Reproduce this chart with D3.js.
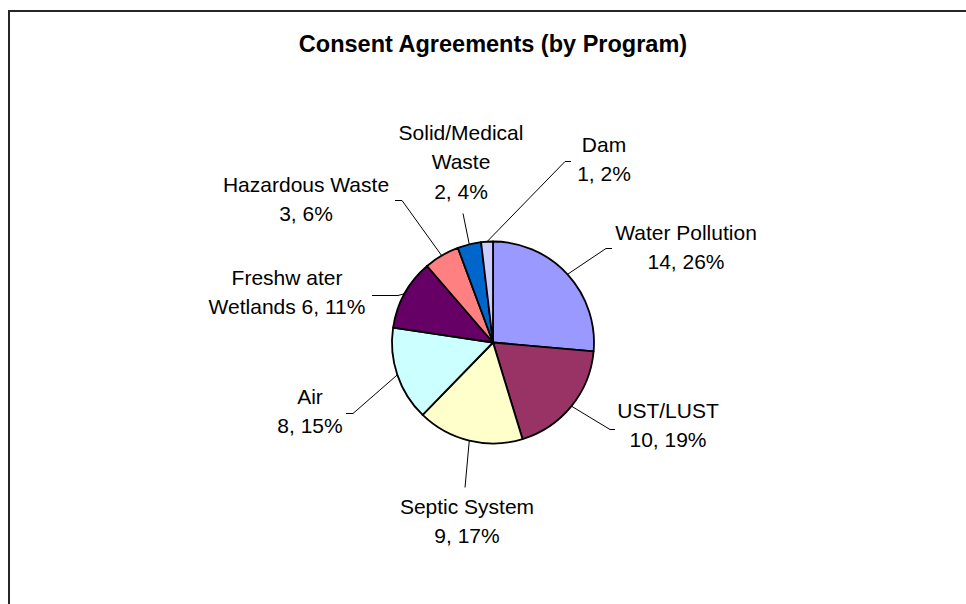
<!DOCTYPE html>
<html>
<head>
<meta charset="utf-8">
<script src="https://cdn.jsdelivr.net/npm/d3@7"></script>
<style>
    body { margin: 0; background: #fff; }
    svg { display: block; }
</style>
</head>
<body>
<script>

//Chart data
var programs = ["Water Pollution", "UST/LUST", "Septic System", "Air", "Freshw ater Wetlands", "Hazardous Waste", "Solid/Medical Waste", "Dam"];
var counts = [14, 10, 9, 8, 6, 3, 2, 1];
var percents = ["26%", "19%", "17%", "15%", "11%", "6%", "4%", "2%"];
var chartTitle = "Consent Agreements (by Program)";

//Label lines, as Excel wrapped them
var labelLines = [
    ["Water Pollution", "14, 26%"],
    ["UST/LUST", "10, 19%"],
    ["Septic System", "9, 17%"],
    ["Air", "8, 15%"],
    ["Freshw ater", "Wetlands 6, 11%"],
    ["Hazardous Waste", "3, 6%"],
    ["Solid/Medical", "Waste", "2, 4%"],
    ["Dam", "1, 2%"]
];

var colors = ["#9999ff", "#993366", "#ffffcc", "#ccffff", "#660066", "#ff8080", "#0066cc", "#ccccff"];

//Label placement (offsets from pie centre): text centre x, first baseline y, leader elbow x/y, tick length
var labelLayout = [
    {tx: 193, ty: -103, ex: 113, ey: -94, tick: 6},
    {tx: 175, ty: 75, ex: 117, ey: 87, tick: 5},
    {tx: -26, ty: 171, ex: -28, ey: 145, tick: 0},
    {tx: -183, ty: 61, ex: -140, ey: 71, tick: -7},
    {tx: -206, ty: -58, ex: -95, ey: -47, tick: -26},
    {tx: -187, ty: -151, ex: -91, ey: -142, tick: -7},
    {tx: -32, ty: -203, ex: -30, ey: -129, tick: 0},
    {tx: 111, ty: -191, ex: 72, ey: -181, tick: 6}
];


var w = 966;
var h = 604;

var cx = 493;
var cy = 342.5;
var radius = 101;
var lineHeight = 29.5;


//Append the svg to the DOM
var svg = d3.select("body").append("svg")
    .attr("width", w)
    .attr("height", h);

//Chart frame (runs off the bottom/right of the picture)
svg.append("rect")
    .attr("x", 9)
    .attr("y", 11)
    .attr("width", 1000)
    .attr("height", 700)
    .style("fill", "#fff")
    .style("stroke", "#262626")
    .style("stroke-width", 2);

//Title
svg.append("text")
    .attr("x", cx)
    .attr("y", 52)
    .attr("text-anchor", "middle")
    .style("font-family", "'Liberation Sans', Arial, sans-serif")
    .style("font-weight", "bold")
    .style("font-size", "23.5px")
    .text(chartTitle);


var pie = d3.pie()
    .sort(null)
    .value(function(d) { return d; });

var arc = d3.arc()
    .innerRadius(0)
    .outerRadius(radius);

var edgeArc = d3.arc()
    .innerRadius(radius)
    .outerRadius(radius);

var arcs = pie(counts);

var chart = svg.append("g")
    .attr("transform", "translate(" + cx + "," + cy + ")");

//Slices
chart.selectAll(".slice")
    .data(arcs)
    .enter()
        .append("path")
        .classed("slice", true)
        .attr("d", arc)
        .style("fill", function(d, i) { return colors[i]; })
        .style("stroke", "#000")
        .style("stroke-width", 1.8)
        .style("stroke-linejoin", "round");

//Leader lines
chart.selectAll(".leader")
    .data(arcs)
    .enter()
        .append("polyline")
        .classed("leader", true)
        .attr("points", function(d, i) {
            var p = edgeArc.centroid(d);
            var L = labelLayout[i];
            return [p, [L.ex, L.ey], [L.ex + L.tick, L.ey]].join(" ");
        })
        .style("fill", "none")
        .style("stroke", "#000")
        .style("stroke-width", 1);

//Labels
var labels = chart.selectAll(".label")
    .data(arcs)
    .enter()
        .append("text")
        .classed("label", true)
        .attr("text-anchor", "middle")
        .style("font-family", "'Liberation Sans', Arial, sans-serif")
        .style("font-size", "21px")
        .style("fill", "#000");

labels.each(function(d, i) {
    var L = labelLayout[i];
    d3.select(this).selectAll("tspan")
        .data(labelLines[i])
        .enter()
            .append("tspan")
            .attr("x", L.tx)
            .attr("y", function(t, j) { return L.ty + j * lineHeight; })
            .text(function(t) { return t; });
});

</script>
</body>
</html>
